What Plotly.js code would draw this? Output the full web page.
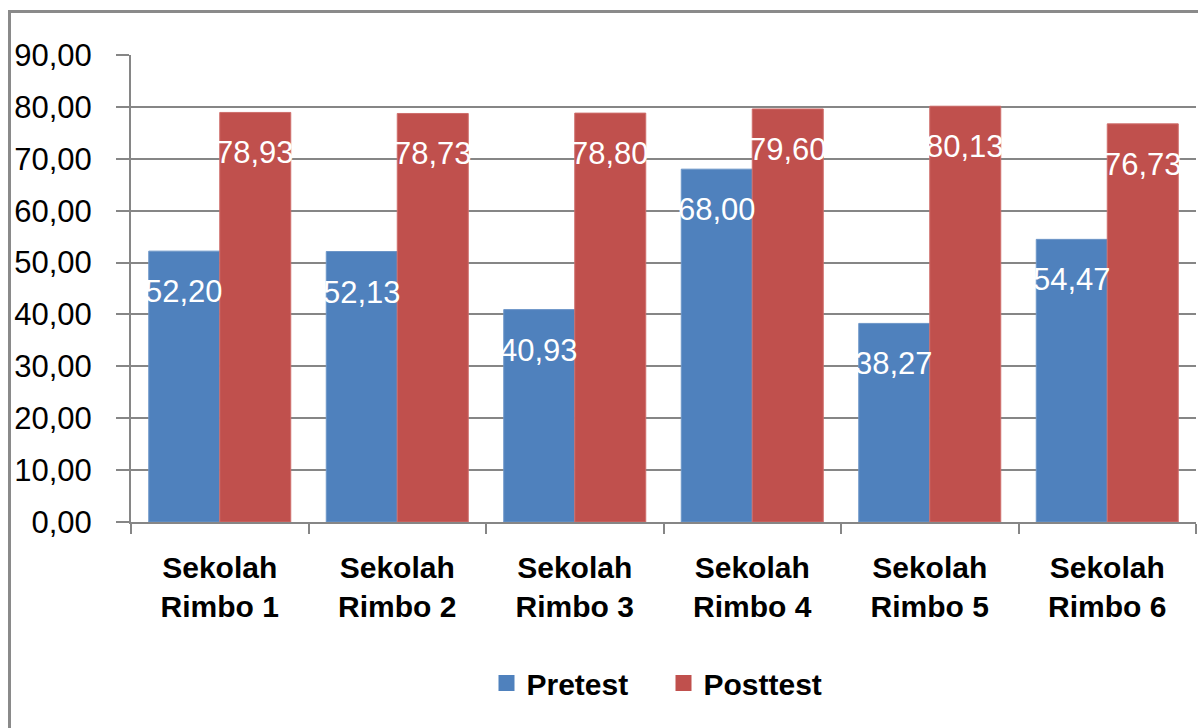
<!DOCTYPE html>
<html>
<head>
<meta charset="utf-8">
<script src="https://cdn.plot.ly/plotly-3.0.1.min.js"></script>
<style>
  html, body { margin: 0; padding: 0; background: #fff; overflow: hidden; }
  #wrap { position: relative; width: 1198px; height: 728px; }
  #chart { position: absolute; left: 0; top: 0; width: 1198px; height: 728px; }
  #frame { position: absolute; left: 8px; top: 10px; width: 1400px; height: 900px;
           border: 3px solid #8a8a8a; pointer-events: none; }
</style>
</head>
<body>
<div id="wrap">
  <div id="chart"></div>
  <div id="frame"></div>
</div>
<script>
const categories = ["Sekolah<br>Rimbo 1", "Sekolah<br>Rimbo 2", "Sekolah<br>Rimbo 3",
                    "Sekolah<br>Rimbo 4", "Sekolah<br>Rimbo 5", "Sekolah<br>Rimbo 6"];
const pretest  = [52.20, 52.13, 40.93, 68.00, 38.27, 54.47];
const posttest = [78.93, 78.73, 78.80, 79.60, 80.13, 76.73];
const seriesNames = ["Pretest", "Posttest"];
const yTickVals = [0, 10, 20, 30, 40, 50, 60, 70, 80, 90];

const BLUE = "#4F81BD", RED = "#C0504D";
const FONT = "Liberation Sans, Arial, sans-serif";

const W = 1198, H = 728;
const margin = {l: 131, r: 2, t: 55, b: 206, pad: 0};
const plotW = W - margin.l - margin.r;
const catW = plotW / categories.length;
const barW = catW * 0.4;

const fmt = v => v.toFixed(2).replace('.', ',');

const traces = [
  {type: 'bar', x: categories, y: pretest, name: seriesNames[0], showlegend: false,
   marker: {color: BLUE, line: {color: '#6d96c8', width: 1}}, hoverinfo: 'none'},
  {type: 'bar', x: categories, y: posttest, name: seriesNames[1], showlegend: false,
   marker: {color: RED, line: {color: '#cf6e6b', width: 1}}, hoverinfo: 'none'},
  {type: 'scatter', mode: 'markers', x: [null], y: [null], name: seriesNames[0],
   marker: {symbol: 'square', size: 16, color: BLUE}},
  {type: 'scatter', mode: 'markers', x: [null], y: [null], name: seriesNames[1],
   marker: {symbol: 'square', size: 16, color: RED}}
];

const annotations = [];
[pretest, posttest].forEach((series, si) => {
  series.forEach((v, i) => {
    annotations.push({
      x: categories[i], y: v, xref: 'x', yref: 'y',
      text: fmt(v), showarrow: false,
      xanchor: 'center', yanchor: 'top',
      xshift: (si === 0 ? -1 : 1) * barW / 2, yshift: -21,
      font: {family: FONT, size: 31, color: '#ffffff'}
    });
  });
});

const layout = {
  width: W, height: H, margin: margin,
  paper_bgcolor: '#fff', plot_bgcolor: '#fff',
  separators: ',.',
  barmode: 'group', bargap: 0.2, bargroupgap: 0,
  font: {family: FONT, color: '#000'},
  showlegend: true,
  legend: {orientation: 'h', x: 0.5, xanchor: 'center', y: -0.345, yanchor: 'middle',
           font: {family: FONT, size: 30, color: '#000', weight: 'bold'},
           itemwidth: 30, tracegroupgap: 0, entrywidth: 132, entrywidthmode: 'pixels'},
  xaxis: {
    type: 'category', showline: true, linecolor: '#868686', linewidth: 2,
    ticks: 'outside', tickson: 'boundaries', ticklen: 10, tickwidth: 2, tickcolor: '#868686',
    showgrid: false, zeroline: false,
    tickfont: {family: FONT, size: 30, color: '#000', weight: 'bold'},
    ticklabelstandoff: 18, fixedrange: true
  },
  yaxis: {
    range: [0, 90], tickvals: yTickVals, tickformat: '.2f',
    showline: true, linecolor: '#868686', linewidth: 2,
    ticks: 'outside', ticklen: 13, tickwidth: 2, tickcolor: '#868686',
    showgrid: true, gridcolor: '#868686', gridwidth: 2, zeroline: false,
    tickfont: {family: FONT, size: 31, color: '#000'},
    ticklabelstandoff: 18, fixedrange: true
  },
  annotations: annotations
};

Plotly.newPlot('chart', traces, layout, {displayModeBar: false, staticPlot: true});
</script>
</body>
</html>
